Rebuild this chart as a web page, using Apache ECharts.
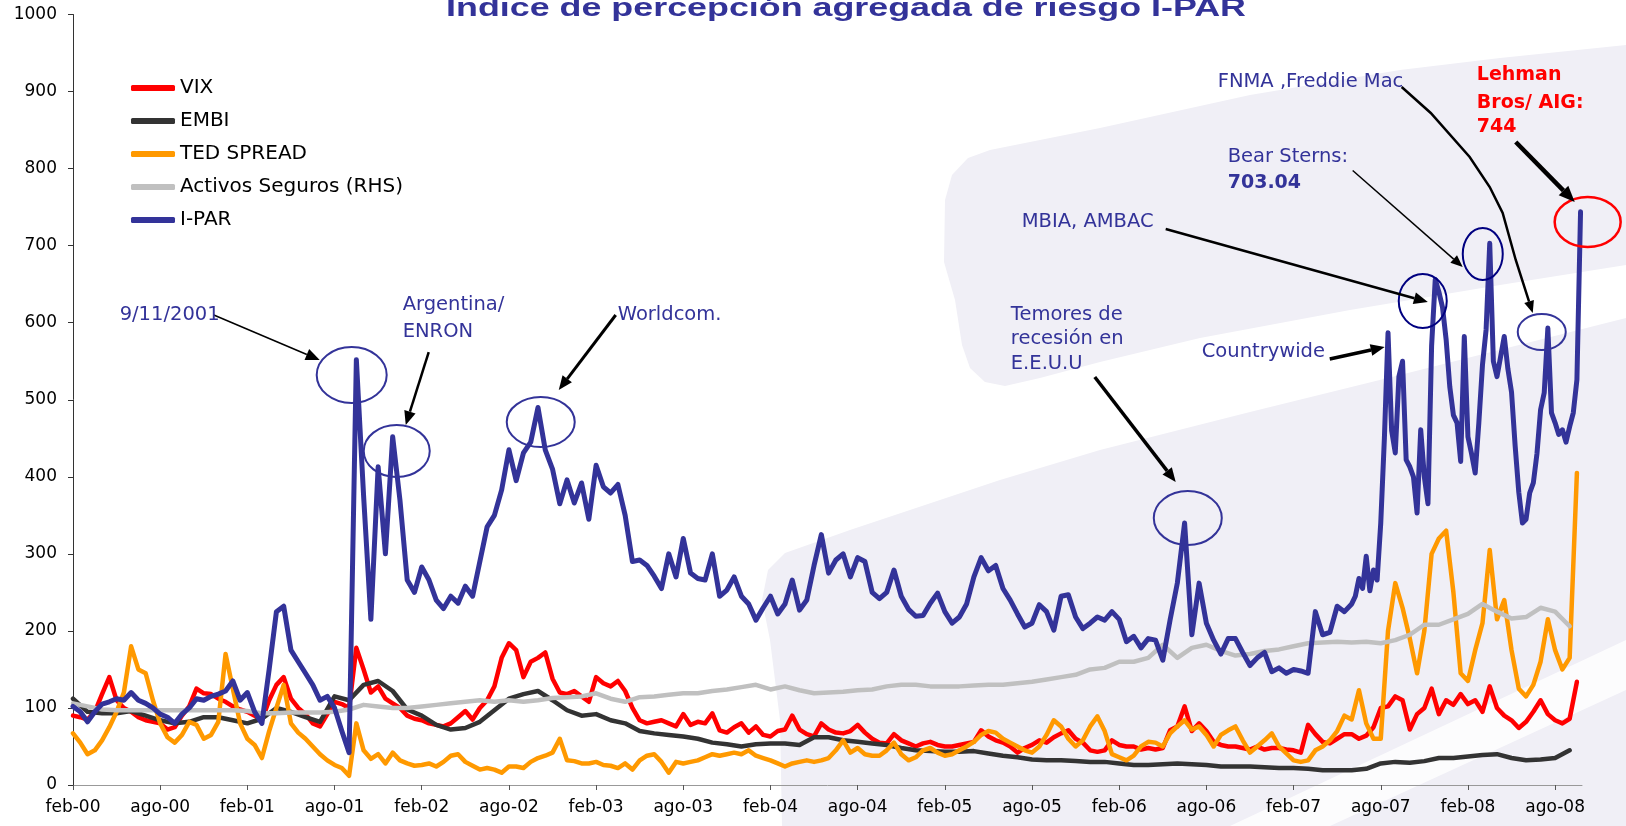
<!DOCTYPE html>
<html>
<head>
<meta charset="utf-8">
<title>I-PAR</title>
<script src="https://cdn.jsdelivr.net/npm/echarts@6.0.0/dist/echarts.min.js"></script>
<style>
  html, body { margin: 0; padding: 0; background: #fff; }
  #chart { width: 1626px; height: 826px; }
</style>
</head>
<body>
<div id="chart"></div>
<script>
// eje x: meses desde feb-00 (una etiqueta cada 6 meses)
const tickLabels = ['feb-00','ago-00','feb-01','ago-01','feb-02','ago-02','feb-03','ago-03','feb-04',
  'ago-04','feb-05','ago-05','feb-06','ago-06','feb-07','ago-07','feb-08','ago-08']

// cada medio mes desde feb-00
const vix = [
  90,88,85,95,118,140,110,100,95,88,
  84,82,80,72,75,90,102,125,119,118,
  112,108,102,98,95,90,84,110,130,140,
  112,100,92,80,76,92,108,105,100,178,
  150,120,128,112,106,100,90,86,84,80,
  78,76,80,88,96,85,100,110,128,165,
  184,175,140,160,165,172,138,120,118,122,
  115,108,140,132,128,135,122,100,84,80,
  82,84,80,76,92,78,82,80,93,71,
  68,75,80,68,76,65,63,70,72,90,
  72,66,63,80,72,68,67,70,78,68,
  60,55,54,66,58,54,50,54,56,52,
  50,50,52,54,56,71,63,58,55,50,
  42,48,52,58,55,62,67,71,60,55,
  45,43,45,58,52,50,50,46,48,46,
  48,71,76,102,70,80,70,56,52,50,
  50,48,46,50,46,48,48,46,45,42,
  78,66,56,54,60,66,66,60,64,75,
  100,102,115,110,72,92,100,125,92,110,
  104,118,105,110,95,128,100,90,84,74,
  82,95,110,92,84,80,86,134
]
const ted = [
  67,55,40,45,58,75,95,120,180,150,
  145,110,80,62,55,65,82,78,60,65,
  82,170,125,80,60,52,35,70,100,130,
  80,68,60,50,40,32,26,22,12,80,
  45,34,40,28,42,32,28,25,26,28,
  24,30,38,40,30,25,20,22,20,16,
  24,24,22,30,35,38,42,60,32,31,
  28,28,30,26,25,22,28,20,32,38,
  40,30,16,30,28,30,32,36,40,38,
  40,42,40,45,38,35,32,28,24,28,
  30,32,30,32,35,45,58,42,48,40,
  38,38,45,55,40,32,36,45,48,42,
  38,40,45,50,56,65,70,68,60,55,
  50,45,42,50,65,84,76,60,50,58,
  76,89,70,40,36,32,38,50,56,55,
  50,67,76,84,72,76,65,50,65,71,
  76,58,42,50,58,67,50,41,32,30,
  32,45,50,58,70,90,85,123,80,60,
  60,200,262,230,190,145,200,300,320,330,
  250,145,135,175,210,305,215,240,175,125,
  115,130,160,215,175,150,165,405
]
// cada mes desde feb-00
const embi = [
  112,95,93,93,96,90,84,80,82,88,
  88,84,80,86,100,95,88,82,115,110,
  130,135,122,98,90,78,72,74,82,97,
  112,118,122,110,97,90,92,84,80,70,
  67,65,63,60,55,53,50,53,54,54,
  52,62,62,58,56,54,52,48,45,44,
  43,43,44,41,38,36,33,32,32,31,
  30,30,28,26,26,27,28,27,26,24,
  24,24,23,22,22,21,19,19,19,21,
  28,30,29,31,35,35,37,39,40,35,
  32,33,35,45
]
const activos = [
  106,102,98,97,97,97,97,97,97,97,
  97,97,96,93,93,94,94,94,95,98,
  104,102,100,100,102,104,106,108,110,108,
  110,108,110,113,114,115,119,112,108,114,
  115,117,119,119,122,124,127,130,124,128,
  123,119,120,121,123,124,128,130,130,128,
  128,128,129,130,130,132,134,137,140,143,
  150,152,160,160,165,182,165,178,182,174,
  168,170,174,176,180,184,185,186,185,186,
  184,188,195,208,208,215,222,235,225,216,
  218,230,225,206
]
// I-PAR: medio mes hasta sep-07, luego cada cuarto de mes
const iparA = [
  102,95,82,95,105,108,112,110,120,110,
  106,100,92,88,80,92,100,112,110,115,
  118,122,135,110,120,95,80,150,225,232,
  175,160,145,130,110,115,100,70,42,552,
  375,215,413,300,452,370,266,250,283,266,
  240,229,245,236,258,245,290,335,350,383,
  435,395,431,445,490,435,410,365,396,366,
  392,345,415,387,379,390,350,290,292,285,
  271,255,300,270,320,275,268,266,300,245,
  253,270,245,235,214,230,245,222,235,266,
  227,240,285,325,275,292,300,270,295,290,
  250,242,250,279,245,228,219,220,236,249,
  225,210,218,235,270,295,278,285,255,240,
  222,205,210,234,225,201,245,247,218,203,
  210,218,214,225,215,186,193,178,190,188,
  162,214,262,340,195,262,210,188,170,190,
  190,172,155,165,172,147,152,145,150,148,
  145,225,195,198,232,225
]
const iparBStart = 88
const iparB = [
  235,245,268,255, 297,252,279,266, 340,450,587,460, 431,530,550,422,
  413,400,353,461, 400,365,570,656, 640,620,578,517, 480,470,420,582,
  452,430,405,470, 545,591,703,550, 530,556,582,540, 510,440,380,340,
  345,379,392,430, 487,509,593,483, 470,455,461,445, 465,483,526,744
]

function toPairs(values, step, start){
  start = start || 0
  return values.map((v, i) => [start + i * step, v])
}

const font = '"DejaVu Sans", sans-serif'
const blue = '#333399'
const tickValues = tickLabels.map((t, i) => i * 6)

const lines = [
  {name: 'VIX', color: '#ff0000', data: toPairs(vix, 0.5)},
  {name: 'EMBI', color: '#333333', data: toPairs(embi, 1)},
  {name: 'TED SPREAD', color: '#ff9900', data: toPairs(ted, 0.5)},
  {name: 'Activos Seguros (RHS)', color: '#c0c0c0', data: toPairs(activos, 1)},
  {name: 'I-PAR', color: blue, data: toPairs(iparA, 0.5).concat(toPairs(iparB, 0.25, iparBStart))}
]

let chart = echarts.init(document.getElementById('chart'))

let option = {
  animation: false,
  backgroundColor: '#fff',
  grid: {left: 73, right: 44, top: 14.5, bottom: 41, outerBoundsMode: 'none'},
  legend: {
    orient: 'vertical', left: 126, top: 73,
    icon: 'roundRect', itemWidth: 44, itemHeight: 6, itemGap: 13,
    textStyle: {fontFamily: font, fontSize: 20, color: '#000'},
    data: lines.map(l => l.name)
  },
  xAxis: {
    type: 'value', min: 0, max: 103.85, interval: 6,
    axisLine: {lineStyle: {color: '#999', width: 1}},
    axisTick: {length: 5, lineStyle: {color: '#555'}, customValues: tickValues},
    axisLabel: {
      customValues: tickValues,
      formatter: v => (v % 6 === 0 ? tickLabels[v / 6] : ''),
      fontFamily: font, fontSize: 17, color: '#000', margin: 14
    },
    splitLine: {show: false}
  },
  yAxis: {
    type: 'value', min: 0, max: 1000, interval: 100,
    axisLine: {show: true, lineStyle: {color: '#333'}},
    axisTick: {show: true, length: 5, lineStyle: {color: '#333'}},
    axisLabel: {formatter: v => String(v), fontFamily: font, fontSize: 17, color: '#000', margin: 16},
    splitLine: {show: false}
  },
  series: lines.map((l, i) => ({
    type: 'line', name: l.name, data: l.data,
    showSymbol: false, symbol: 'none', z: 2 + i,
    lineStyle: {width: l.name === 'I-PAR' ? 5 : 4.5, color: l.color, cap: 'round', join: 'round'},
    itemStyle: {color: l.color},
    emphasis: {disabled: true}
  }))
}
chart.setOption(option)

// anotaciones, ubicadas en coordenadas de datos [mes, valor]
const notes = [
  {text: '9/11/2001', at: [3.21, 610]},
  {text: 'Argentina/', at: [22.69, 623]},
  {text: 'ENRON', at: [22.69, 588]},
  {text: 'Worldcom.', at: [37.49, 610]},
  {text: 'Temores de', at: [64.54, 610]},
  {text: 'recesión en', at: [64.54, 579]},
  {text: 'E.E.U.U', at: [64.54, 546.4]},
  {text: 'Countrywide', at: [77.68, 561.9]},
  {text: 'MBIA, AMBAC', at: [65.29, 730.7]},
  {text: 'Bear Sterns:', at: [79.47, 815.1]},
  {text: '703.04', at: [79.47, 781.3], bold: true},
  {text: 'FNMA ,Freddie Mac', at: [78.78, 912.4]},
  {text: 'Lehman', at: [96.61, 921.5], bold: true, color: '#ff0000'},
  {text: 'Bros/ AIG:', at: [96.61, 885.1], bold: true, color: '#ff0000'},
  {text: '744', at: [96.61, 854], bold: true, color: '#ff0000'}
]
const rings = [
  {at: [19.18, 532.1], rx: 35, ry: 28, color: blue},
  {at: [22.28, 433.5], rx: 33, ry: 26, color: blue},
  {at: [32.19, 471.1], rx: 34, ry: 25, color: blue},
  {at: [76.72, 346.5], rx: 34, ry: 27, color: blue},
  {at: [92.89, 628.2], rx: 24, ry: 27, color: '#000080'},
  {at: [97.02, 689.2], rx: 20, ry: 26, color: '#000080'},
  {at: [101.08, 587.9], rx: 24, ry: 18, color: blue},
  {at: [104.24, 730.7], rx: 33, ry: 25, color: '#ff0000', width: 2.5}
]
const arrows = [
  {pts: [[9.69, 610], [16.98, 551.6]], width: 1.5, head: 14},
  {pts: [[24.48, 561.9], [22.9, 467.2]], width: 2.5, head: 14},
  {pts: [[37.35, 610], [33.43, 512.7]], width: 3, head: 14},
  {pts: [[70.32, 529.5], [75.89, 393.3]], width: 3.5, head: 14},
  {pts: [[86.49, 552.9], [90.27, 568.5]], width: 3.5, head: 14},
  {pts: [[75.2, 721.6], [93.24, 626.9]], width: 2.5, head: 14},
  {pts: [[88.07, 797.5], [95.64, 672.3]], width: 1.5, head: 12},
  {pts: [[91.44, 905.9], [93.44, 872.2], [96.12, 815.1], [97.5, 776.1], [98.39, 742.4], [99.29, 681.4], [100.46, 612.6]], width: 2.5, head: 12},
  {pts: [[99.29, 834.5], [103.35, 756.7]], width: 4.5, head: 16}
]

function toPx(p){ return chart.convertToPixel({gridIndex: 0}, p) }

function arrowEls(a){
  let p = a.pts.map(toPx), n = p.length
  let x2 = p[n - 1][0], y2 = p[n - 1][1]
  let dx = x2 - p[n - 2][0], dy = y2 - p[n - 2][1]
  let len = Math.hypot(dx, dy)
  dx /= len; dy /= len
  let bx = x2 - dx * a.head, by = y2 - dy * a.head, hw = a.head * 0.42
  return [
    {type: 'polyline', z: 20, shape: {points: p.slice(0, n - 1).concat([[bx, by]])},
      style: {stroke: '#000', lineWidth: a.width, fill: 'none'}},
    {type: 'polygon', z: 20, shape: {points: [[x2, y2], [bx - dy * hw, by + dx * hw], [bx + dy * hw, by - dx * hw]]},
      style: {fill: '#000'}}
  ]
}

let els = []
// fondo lila con franja blanca
els.push({type: 'polygon', z: -10, silent: true, shape: {points: [
  [944, 262], [945, 200], [952, 175], [968, 158], [990, 150], [1100, 128], [1250, 95], [1400, 70],
  [1500, 58], [1626, 45], [1626, 265], [1500, 285], [1350, 310], [1200, 338], [1100, 362],
  [1040, 378], [1005, 386], [985, 382], [970, 368], [962, 345], [955, 300]]},
  style: {fill: '#f0eff6'}})
els.push({type: 'polygon', z: -10, silent: true, shape: {points: [
  [782, 826], [780, 720], [770, 640], [762, 600], [768, 570], [785, 553], [850, 530], [1000, 480],
  [1100, 450], [1250, 412], [1400, 375], [1626, 318], [1626, 826]]},
  style: {fill: '#f0eff6'}})
els.push({type: 'polygon', z: -9, silent: true, shape: {points: [
  [1230, 826], [1626, 640], [1626, 690], [1330, 826]]},
  style: {fill: 'rgba(255,255,255,0.8)'}})

// título (cortado arriba, como en el original)
els.push({type: 'text', z: 20, x: 846, y: 22, scaleX: 1.4, style: {
  text: 'Índice de percepción agregada de riesgo I-PAR', fill: blue,
  font: 'bold 25.6px "Liberation Sans", sans-serif',
  textAlign: 'center', align: 'center', textVerticalAlign: 'bottom', verticalAlign: 'bottom'}})

rings.forEach(r => {
  let c = toPx(r.at)
  els.push({type: 'ellipse', z: 20, shape: {cx: c[0], cy: c[1], rx: r.rx, ry: r.ry},
    style: {fill: 'none', stroke: r.color, lineWidth: r.width || 2}})
})
arrows.forEach(a => { els = els.concat(arrowEls(a)) })
notes.forEach(t => {
  let c = toPx(t.at)
  els.push({type: 'text', z: 20, x: c[0], y: c[1], style: {
    text: t.text, fill: t.color || blue,
    font: (t.bold ? 'bold 19px ' : '19.5px ') + font,
    textAlign: 'left', align: 'left', textVerticalAlign: 'middle', verticalAlign: 'middle'}})
})

chart.setOption({graphic: {elements: els}})
window.onresize = chart.resize
</script>
</body>
</html>
